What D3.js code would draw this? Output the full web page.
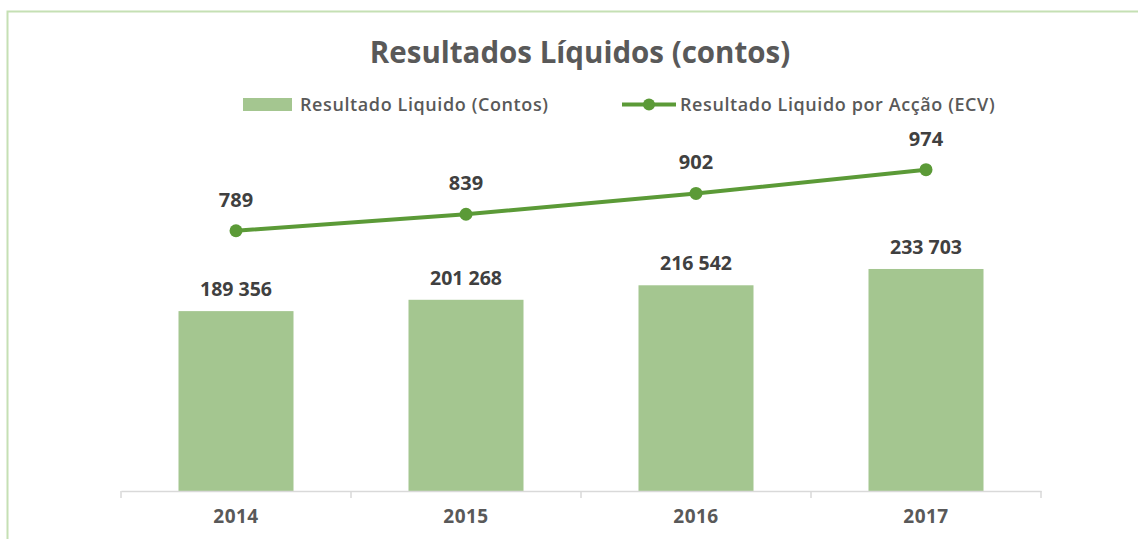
<!DOCTYPE html>
<html>
<head>
<meta charset="utf-8">
<script src="https://cdn.jsdelivr.net/npm/d3@7"></script>
<style>
  body { margin: 0; background: #fff; }
  svg text { font-family: "Open Sans", "Noto Sans", sans-serif; }
</style>
</head>
<body>
<div id="chart"></div>
<script>
// data
var years = ["2014", "2015", "2016", "2017"];
var resultado = [189356, 201268, 216542, 233703];
var porAccao = [789, 839, 902, 974];

var W = 1138, H = 539;
var margin = {top: 16, left: 121, right: 97, bottom: 48};
var baseY = H - margin.bottom; // 491

var svg = d3.select("#chart").append("svg").attr("width", W).attr("height", H);

// frame
svg.append("path").attr("d", "M7.5," + H + "V11.5H" + W)
  .attr("fill", "none").attr("stroke", "#c5e0b4").attr("stroke-width", 2);

var x = d3.scaleBand().domain(years).range([margin.left, W - margin.right]).paddingInner(0).paddingOuter(0);
var yBar = d3.scaleLinear().domain([0, 500000]).range([baseY, margin.top]);
var yLine = d3.scaleLinear().domain([0, 1440]).range([baseY, margin.top]);

var fmt = function(v) { return d3.format(",")(v).replace(/,/g, " "); };

// title
svg.append("text").attr("x", 580).attr("y", 63).attr("text-anchor", "middle")
  .style("font-size", "29.5px").style("font-weight", 700).attr("fill", "#595959")
  .text("Resultados Líquidos (contos)");

// legend
svg.append("rect").attr("x", 243).attr("y", 98).attr("width", 49).attr("height", 13).attr("fill", "#a4c690");
svg.append("text").attr("x", 300).attr("y", 111).style("font-size", "18px").style("font-weight", 600)
  .style("letter-spacing", "0.6px").attr("fill", "#595959").text("Resultado Liquido (Contos)");
svg.append("line").attr("x1", 622).attr("x2", 676).attr("y1", 104.5).attr("y2", 104.5)
  .attr("stroke", "#5b9a37").attr("stroke-width", 4);
svg.append("circle").attr("cx", 649).attr("cy", 104.5).attr("r", 6).attr("fill", "#5b9a37");
svg.append("text").attr("x", 680).attr("y", 111).style("font-size", "18px").style("font-weight", 600)
  .style("letter-spacing", "0.6px").attr("fill", "#595959").text("Resultado Liquido por Acção (ECV)");

// bars
var bw = x.bandwidth() * 0.5;
svg.selectAll(".bar").data(years).enter().append("rect")
  .attr("class", "bar")
  .attr("x", function(d) { return x(d) + (x.bandwidth() - bw) / 2; })
  .attr("y", function(d, i) { return yBar(resultado[i]); })
  .attr("width", bw)
  .attr("height", function(d, i) { return baseY - yBar(resultado[i]); })
  .attr("fill", "#a4c690");

svg.selectAll(".barlab").data(years).enter().append("text")
  .attr("x", function(d) { return x(d) + x.bandwidth() / 2; })
  .attr("y", function(d, i) { return yBar(resultado[i]) - 15; })
  .attr("text-anchor", "middle").style("font-size", "19.5px").style("font-weight", 700)
  .attr("fill", "#404040")
  .text(function(d, i) { return fmt(resultado[i]); });

// x axis
var axis = svg.append("g").attr("transform", "translate(0," + baseY + ")")
  .call(d3.axisBottom(x).tickSize(0).tickPadding(19));
axis.select(".domain").attr("stroke", "#d9d9d9").attr("stroke-width", 1.5);
axis.selectAll(".tick text").style("font-size", "19px").style("font-weight", 700)
  .style("letter-spacing", "0.5px")
  .attr("fill", "#595959").style("font-family", "'Open Sans', sans-serif");
var sep = years.map(function(d) { return x(d); }).concat([x(years[years.length - 1]) + x.bandwidth()]);
svg.selectAll(".sep").data(sep).enter().append("line")
  .attr("x1", function(d) { return d; }).attr("x2", function(d) { return d; })
  .attr("y1", baseY).attr("y2", baseY + 7)
  .attr("stroke", "#d9d9d9").attr("stroke-width", 1.5);

// line
var cx = function(i) { return x(years[i]) + x.bandwidth() / 2; };
svg.append("path").datum(porAccao)
  .attr("d", d3.line().x(function(d, i) { return cx(i); }).y(function(d) { return yLine(d); }))
  .attr("fill", "none").attr("stroke", "#5b9a37").attr("stroke-width", 4).attr("stroke-linecap", "round");
svg.selectAll(".pt").data(porAccao).enter().append("circle")
  .attr("cx", function(d, i) { return cx(i); })
  .attr("cy", function(d) { return yLine(d); })
  .attr("r", 6.5).attr("fill", "#5b9a37");
svg.selectAll(".ptlab").data(porAccao).enter().append("text")
  .attr("x", function(d, i) { return cx(i); })
  .attr("y", function(d) { return yLine(d) - 24; })
  .attr("text-anchor", "middle").style("font-size", "20px").style("font-weight", 700)
  .attr("fill", "#404040")
  .text(function(d) { return d; });
</script>
</body>
</html>
